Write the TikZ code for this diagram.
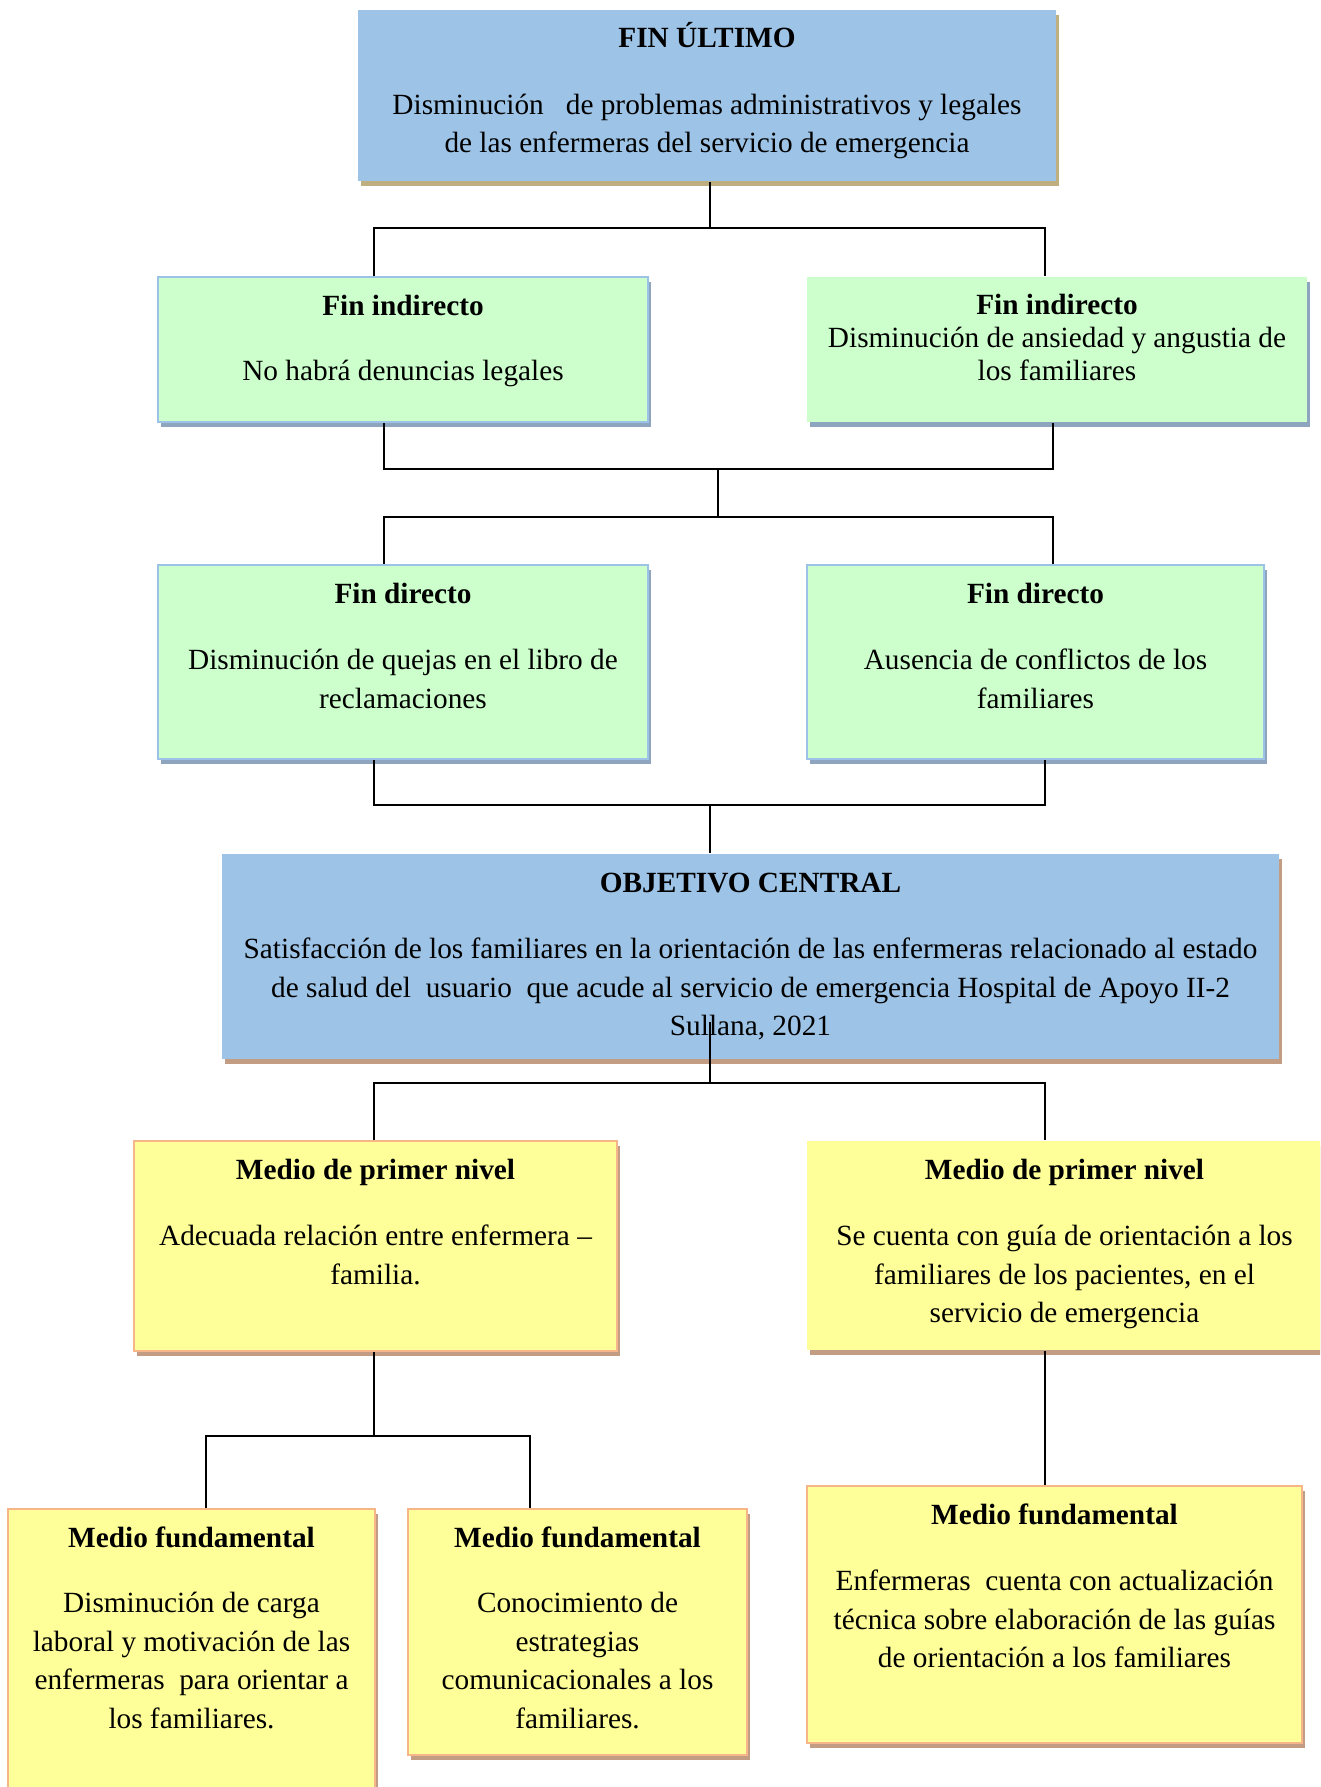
\documentclass[tikz,border=0pt]{standalone}
\usepackage{fontspec}
\setmainfont{Liberation Serif}
\usetikzlibrary{calc}
\definecolor{azul}{HTML}{9DC3E6}
\definecolor{verde}{HTML}{CCFFCC}
\definecolor{amarillo}{HTML}{FFFF99}
\definecolor{bordeazul}{HTML}{9CC2E8}
\definecolor{salmon}{HTML}{F6B68A}
\definecolor{sombratan}{HTML}{BFAE80}
\definecolor{sombragris}{HTML}{8EA5C0}
\definecolor{sombrarosa}{HTML}{C39C84}
\newcommand{\contenido}[3]{\parbox[c][#1pt][t]{#2pt}{\centering\rule{0pt}{38pt}#3}}

\begin{document}
\begin{tikzpicture}[x=1pt,y=-1pt,
  font=\fontsize{29.3}{38.5}\selectfont,
  caja/.style={anchor=north west, inner sep=0pt, line width=2pt},
  sombra/.style={preaction={fill=#1, transform canvas={shift={(3pt,-5pt)}}}},
  azulbox/.style={caja, fill=azul, sombra=#1},
  verdebox/.style={caja, fill=verde, sombra=sombragris},
  amarillobox/.style={caja, fill=amarillo, sombra=sombrarosa},
  enlace/.style={line width=1.7pt}]
\useasboundingbox (0,0) rectangle (1320,1787);
\clip (0,0) rectangle (1320,1787);

\node[azulbox=sombratan] (fu) at (357,9) {\contenido{171}{698}{\textbf{FIN ÚLTIMO}\\[28pt]
  Disminución~~~de problemas administrativos y legales\\de las enfermeras del servicio de emergencia}};

\node[verdebox, draw=bordeazul] (fi1) at (157,276) {\contenido{145}{490}{\textbf{Fin indirecto}\\[27pt]
  No habrá denuncias legales}};
\node[verdebox] (fi2) at (806,276) {\fontsize{29.3}{33}\selectfont\parbox[c][145pt][t]{500pt}{\centering\rule{0pt}{37pt}%
  \textbf{Fin indirecto}\\Disminución de ansiedad y angustia de\\los familiares}};

\node[verdebox, draw=bordeazul] (fd1) at (157,564) {\contenido{194}{490}{\textbf{Fin directo}\\[28pt]
  Disminución de quejas en el libro de\\reclamaciones}};
\node[verdebox, draw=bordeazul] (fd2) at (806,564) {\contenido{194}{457}{\textbf{Fin directo}\\[28pt]
  Ausencia de conflictos de los\\familiares}};

\node[azulbox=sombrarosa] (oc) at (221,853) {\contenido{205}{1057}{\textbf{OBJETIVO CENTRAL}\\[28pt]
  Satisfacción de los familiares en la orientación de las enfermeras relacionado al estado\\
  de salud del~~usuario~~que acude al servicio de emergencia Hospital de Apoyo II-2\\Sullana, 2021}};

\node[amarillobox, draw=salmon] (mp1) at (133,1140) {\contenido{210}{483}{\textbf{Medio de primer nivel}\\[28pt]
  Adecuada relación entre enfermera –\\familia.}};
\node[amarillobox] (mp2) at (806,1140) {\contenido{209}{515}{\textbf{Medio de primer nivel}\\[28pt]
  Se cuenta con guía de orientación a los\\familiares de los pacientes, en el\\servicio de emergencia}};

\node[amarillobox, draw=salmon] (mf1) at (7,1508) {\contenido{300}{367}{\textbf{Medio fundamental}\\[27pt]
  Disminución de carga\\laboral y motivación de las\\enfermeras~~para orientar a\\los familiares.}};
\node[amarillobox, draw=salmon] (mf2) at (407,1508) {\contenido{246}{339}{\textbf{Medio fundamental}\\[27pt]
  Conocimiento de\\estrategias\\comunicacionales a los\\familiares.}};
\node[amarillobox, draw=salmon] (mf3) at (806,1485) {\contenido{257}{495}{\textbf{Medio fundamental}\\[28pt]
  Enfermeras~~cuenta con actualización\\técnica sobre elaboración de las guías\\de orientación a los familiares}};

\coordinate (b1) at (710,228);
\coordinate (b1l) at (374,228);
\coordinate (b1r) at (1045,228);
\draw[enlace] (fu.south -| b1) -- (b1);
\draw[enlace] (fi1.north -| b1l) -- (b1l) -- (b1r) -- (fi2.north -| b1r);

\coordinate (b2) at (718,469);
\coordinate (b2l) at (384,469);
\coordinate (b2r) at (1053,469);
\coordinate (b3) at (718,517);
\coordinate (b3l) at (384,517);
\coordinate (b3r) at (1053,517);
\draw[enlace] (fi1.south -| b2l) -- (b2l) -- (b2r) -- (fi2.south -| b2r);
\draw[enlace] (b2) -- (b3);
\draw[enlace] (fd1.north -| b3l) -- (b3l) -- (b3r) -- (fd2.north -| b3r);

\coordinate (b4) at (710,805);
\coordinate (b4l) at (374,805);
\coordinate (b4r) at (1045,805);
\draw[enlace] (fd1.south -| b4l) -- (b4l) -- (b4r) -- (fd2.south -| b4r);
\draw[enlace] (b4) -- (oc.north -| b4);

\coordinate (oc0) at (710,1022);
\coordinate (b5) at (710,1083);
\coordinate (b5l) at (374,1083);
\coordinate (b5r) at (1045,1083);
\draw[enlace] (oc0) -- (b5);
\draw[enlace] (mp1.north -| b5l) -- (b5l) -- (b5r) -- (mp2.north -| b5r);

\coordinate (b6) at (374,1436);
\coordinate (b6l) at (206,1436);
\coordinate (b6r) at (530,1436);
\draw[enlace] (mp1.south -| b6) -- (b6);
\draw[enlace] (mf1.north -| b6l) -- (b6l) -- (b6r) -- (mf2.north -| b6r);
\draw[enlace] (mp2.south -| b5r) -- (mf3.north -| b5r);
\end{tikzpicture}
\end{document}
